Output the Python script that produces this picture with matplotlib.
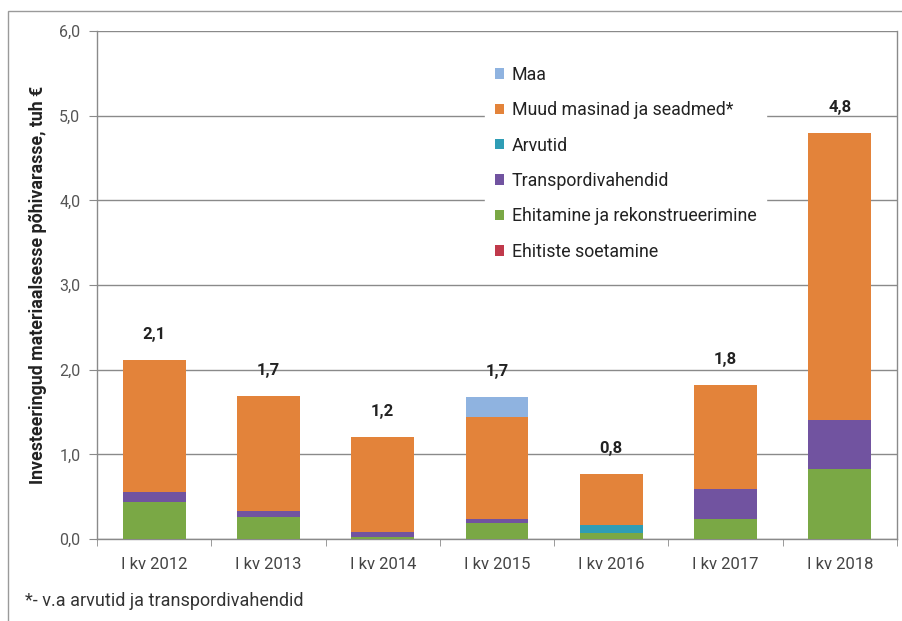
import matplotlib
matplotlib.use("Agg")
import matplotlib.pyplot as plt
from matplotlib.patches import Rectangle
import numpy as np

plt.rcParams['font.family'] = ['Roboto', 'DejaVu Sans']

categories = ["I kv 2012", "I kv 2013", "I kv 2014", "I kv 2015", "I kv 2016", "I kv 2017", "I kv 2018"]
ehitiste_soetamine = [0.0, 0.0, 0.0, 0.0, 0.0, 0.0, 0.0]
ehitamine = [0.44, 0.26, 0.02, 0.19, 0.07, 0.24, 0.83]
transpordivahendid = [0.11, 0.07, 0.06, 0.05, 0.0, 0.35, 0.57]
arvutid = [0.0, 0.0, 0.0, 0.0, 0.09, 0.0, 0.0]
muud_masinad = [1.57, 1.36, 1.13, 1.20, 0.61, 1.23, 3.40]
maa = [0.0, 0.0, 0.0, 0.24, 0.0, 0.0, 0.0]
totals = [2.1, 1.7, 1.2, 1.7, 0.8, 1.8, 4.8]

series = [
    ("Ehitiste soetamine", ehitiste_soetamine, "#C0394B"),
    ("Ehitamine ja rekonstrueerimine", ehitamine, "#7AA845"),
    ("Transpordivahendid", transpordivahendid, "#7153A0"),
    ("Arvutid", arvutid, "#2F9DB5"),
    ("Muud masinad ja seadmed*", muud_masinad, "#E3833A"),
    ("Maa", maa, "#8FB3E0"),
]

fig = plt.figure(figsize=(9.03, 6.21), dpi=100)
ax = fig.add_axes([97/903, 1-539/621, (897-97)/903, (539-31)/621])

x = np.arange(len(categories))
bottom = np.zeros(len(categories))
handles = {}
for name, vals, col in series:
    v = np.array(vals)
    h = ax.bar(x, v, bottom=bottom, width=0.55, color=col, label=name, zorder=3)
    handles[name] = h
    bottom += v

for xi, top, t in zip(x, bottom, totals):
    ax.annotate(f"{t:.1f}".replace(".", ","), (xi, top), xytext=(0, 18),
                textcoords="offset points", ha="center", va="center",
                fontsize=12, fontweight="bold", color="#222222", zorder=5)

ax.set_ylim(0, 6)
ax.set_xlim(-0.5, len(categories) - 0.5)
ax.set_yticks(np.arange(0, 6.01, 1.0))
ax.set_yticklabels([f"{v:.1f}".replace(".", ",") for v in np.arange(0, 6.01, 1.0)],
                   fontsize=11.5, color="#555555")
ax.yaxis.grid(True, color="#8a8a8a", linewidth=1.0, zorder=0)
ax.set_axisbelow(True)

ax.set_xticks(x)
ax.set_xticklabels(categories, fontsize=12, color="#444444")
ax.set_xticks(np.arange(-0.5, len(categories), 1.0), minor=True)
ax.tick_params(axis="x", which="major", length=0, pad=13)
ax.tick_params(axis="x", which="minor", length=5, color="#8a8a8a", direction="out")
ax.tick_params(axis="y", length=6, color="#8a8a8a", pad=6)

for s in ["left", "right", "bottom"]:
    ax.spines[s].set_color("#8a8a8a")
    ax.spines[s].set_linewidth(1.0)
ax.spines["top"].set_visible(False)

ax.set_ylabel("Investeeringud materiaalsesse põhivarasse, tuh €", fontsize=12.8,
              fontweight="bold", color="#222222", labelpad=9)

order = ["Maa", "Muud masinad ja seadmed*", "Arvutid", "Transpordivahendid",
         "Ehitamine ja rekonstrueerimine", "Ehitiste soetamine"]
leg = ax.legend([handles[n] for n in order], order, loc="upper left",
                bbox_to_anchor=((476-97)/800, (539-47)/508), frameon=True,
                fontsize=12.8, handlelength=0.52, handleheight=0.52, handletextpad=0.45,
                labelspacing=0.98, borderpad=0.55, fancybox=False)
leg.get_frame().set_edgecolor("white")
leg.get_frame().set_facecolor("white")
leg.get_frame().set_alpha(1.0)
leg.set_zorder(4)
for t in leg.get_texts():
    t.set_color("#222222")

fig.text(25/903, 1-601/621, "*- v.a arvutid ja transpordivahendid", fontsize=13,
         color="#333333", va="center", ha="left")

fig.patches.append(Rectangle((8/903, -0.05), 1.2, 1-11/621+0.05, transform=fig.transFigure,
                             fill=False, edgecolor="#9a9a9a", linewidth=1.0))

fig.savefig("out.png", dpi=100)
